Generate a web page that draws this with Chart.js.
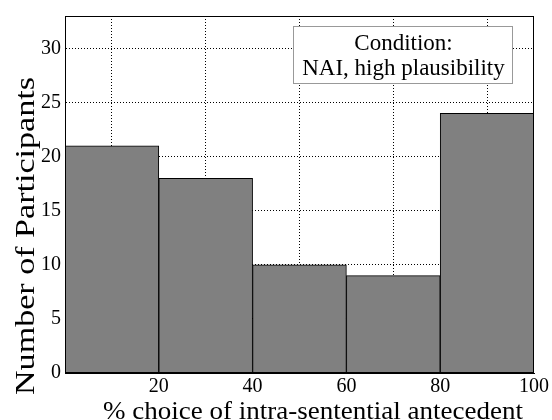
<!DOCTYPE html>
<html>
<head>
<meta charset="utf-8">
<script src="https://cdn.jsdelivr.net/npm/chart.js@4"></script>
<style>
    html, body { margin: 0; padding: 0; background: #fff; }
    #wrap { width: 552px; height: 420px; }
</style>
</head>
<body>
<div id="wrap"><canvas id="myChart" width="552" height="420"></canvas></div>
<script>
"use strict";

// histogram bins (bin centres, % choice) and counts
const binCentres = [10, 30, 50, 70, 90];
const counts = [21, 18, 10, 9, 24];
const legendLines = ["Condition:", "NAI, high plausibility"];
const xTitle = "% choice of intra-sentential antecedent";
const yTitle = "Number of Participants";

const serif = "'Liberation Serif', 'DejaVu Serif', serif";

// full black frame round the plot area
const framePlugin = {
    id: "frame",
    afterDatasetsDraw(chart) {
        const { ctx, chartArea: a } = chart;
        ctx.save();
        ctx.strokeStyle = "#000";
        ctx.lineWidth = 1;
        ctx.strokeRect(a.left + 0.5, a.top + 0.5, a.right - a.left - 1, a.bottom - a.top - 1);
        ctx.restore();
    }
};

// text stretched along its baseline to a given length
const stretchedText = (ctx, text, len) => {
    const w = ctx.measureText(text).width;
    ctx.scale(len / w, 1);
    ctx.fillText(text, 0, 0);
};

// axis titles, placed like the original figure
const axisTitles = {
    id: "axisTitles",
    afterDraw(chart) {
        const { ctx } = chart;
        ctx.save();
        ctx.fillStyle = "#000";
        ctx.textAlign = "center";
        ctx.textBaseline = "alphabetic";
        ctx.font = "25px " + serif;
        ctx.translate(313, 419);
        stretchedText(ctx, xTitle, 420);
        ctx.restore();

        ctx.save();
        ctx.fillStyle = "#000";
        ctx.textAlign = "center";
        ctx.textBaseline = "alphabetic";
        ctx.font = "27px " + serif;
        ctx.translate(34, 236);
        ctx.rotate(-Math.PI / 2);
        stretchedText(ctx, yTitle, 318);
        ctx.restore();
    }
};

// the text box in the top right corner
const noteBox = {
    id: "noteBox",
    afterDraw(chart) {
        const { ctx } = chart;
        const x = 293, y = 26, w = 219, h = 57;
        ctx.save();
        ctx.fillStyle = "#fff";
        ctx.fillRect(x, y, w, h);
        ctx.strokeStyle = "#999";
        ctx.lineWidth = 1;
        ctx.strokeRect(x + 0.5, y + 0.5, w, h);
        ctx.fillStyle = "#000";
        ctx.font = "23px " + serif;
        ctx.textAlign = "center";
        ctx.textBaseline = "alphabetic";
        ctx.fillText(legendLines[0], x + w / 2 + 1, y + 24);
        ctx.fillText(legendLines[1], x + w / 2 + 1, y + 49);
        ctx.restore();
    }
};

const renderChart = () => {
    const ctx = document.getElementById("myChart");
    const points = binCentres.map((c, i) => ({ x: c, y: counts[i] }));

    new Chart(ctx, {
        type: "bar",
        data: {
            datasets: [{
                data: points,
                backgroundColor: "#808080",
                borderColor: "#000",
                borderWidth: 1,
                barPercentage: 1,
                categoryPercentage: 1
            }]
        },
        options: {
            responsive: false,
            animation: false,
            layout: { padding: { top: 11, right: 18, left: 0, bottom: 0 } },
            plugins: { legend: { display: false }, tooltip: { enabled: false } },
            scales: {
                x: {
                    type: "linear",
                    offset: false,
                    min: 0,
                    max: 100,
                    afterFit: s => { s.height = 47; },
                    ticks: {
                        stepSize: 20,
                        color: "#000",
                        font: { family: serif, size: 20 },
                        padding: 2,
                        maxRotation: 0,
                        callback: v => (v === 0 ? "" : v)
                    },
                    grid: { color: "#000", drawTicks: false, lineWidth: 1 },
                    border: { display: true, color: "#000", dash: [1, 2] }
                },
                y: {
                    min: 0,
                    max: 33,
                    afterFit: s => { s.width = 65; },
                    ticks: {
                        stepSize: 5,
                        includeBounds: false,
                        color: "#000",
                        font: { family: serif, size: 20 },
                        padding: 4
                    },
                    grid: { color: "#000", drawTicks: false, lineWidth: 1 },
                    border: { display: true, color: "#000", dash: [1, 2] }
                }
            }
        },
        plugins: [framePlugin, noteBox, axisTitles]
    });
};

document.addEventListener("DOMContentLoaded", renderChart);
</script>
</body>
</html>
